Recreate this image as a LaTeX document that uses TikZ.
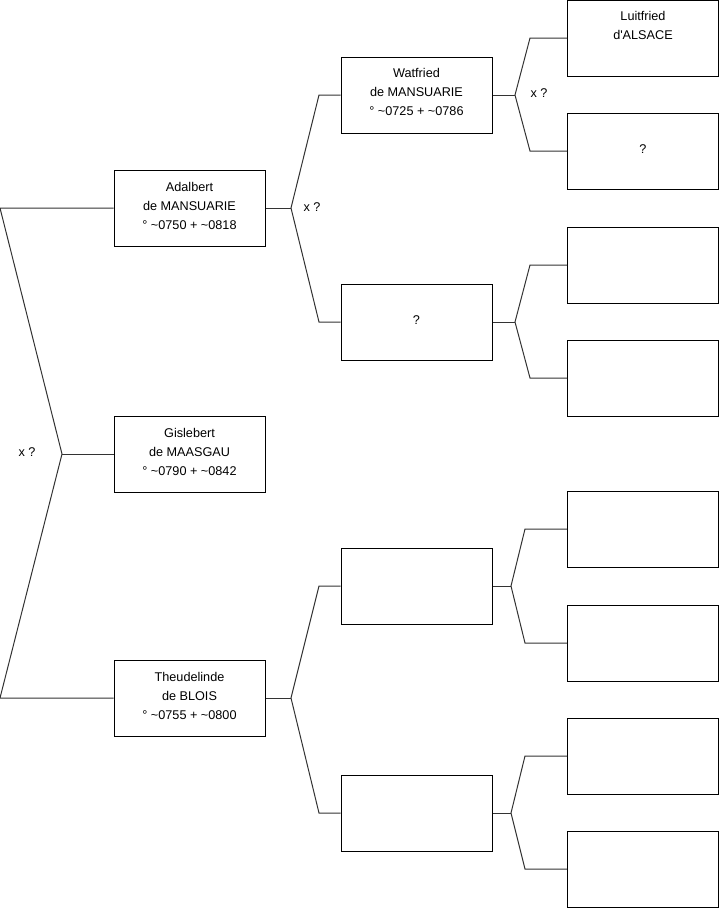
\documentclass[tikz,border=0pt]{standalone}
\usepackage{fontspec}
\setmainfont{Liberation Sans}
\begin{document}
\begin{tikzpicture}[x=0.75pt,y=-0.75pt,
  person/.style={draw=black,line width=0.75pt,minimum width=113.25pt,minimum height=57pt,inner sep=0pt},
  ptext/.style={align=center,font=\fontsize{9.5}{14.25}\selectfont,inner sep=0pt},
  conn/.style={draw=black!80,line width=0.75pt},
  lbl/.style={font=\fontsize{9.5}{11}\selectfont,inner sep=0pt}]
\useasboundingbox (0,0) rectangle (719,908);
% generation 1
\node[person] (adal) at (189.5,208) {};
\node[ptext] (adalt) at (189.5,206) {Adalbert\\de MANSUARIE\\° \textasciitilde0750 + \textasciitilde0818};
\node[person] (gisl) at (189.5,454) {};
\node[ptext] (gislt) at (189.5,452) {Gislebert\\de MAASGAU\\° \textasciitilde0790 + \textasciitilde0842};
\node[person] (theu) at (189.5,698) {};
\node[ptext] (theut) at (189.5,696) {Theudelinde\\de BLOIS\\° \textasciitilde0755 + \textasciitilde0800};
% generation 2
\node[person] (watf) at (416.5,95) {};
\node[ptext] (watft) at (416.5,92) {Watfried\\de MANSUARIE\\° \textasciitilde0725 + \textasciitilde0786};
\node[person] (amot) at (416.5,322) {};
\node[ptext] (amott) at (416.5,320) {?};
\node[person] (tfat) at (416.5,586) {};
\node[person] (tmot) at (416.5,813) {};
% generation 3
\node[person] (luit) at (643,38) {};
\node[ptext] (luitt) at (643,25.5) {Luitfried\\d\textquotesingle ALSACE};
\node[person] (wmot) at (643,151) {};
\node[ptext] (wmott) at (643,149) {?};
\node[person] (q3) at (643,265) {};
\node[person] (q4) at (643,378) {};
\node[person] (q5) at (643,529) {};
\node[person] (q6) at (643,643) {};
\node[person] (q7) at (643,756) {};
\node[person] (q8) at (643,869) {};
% left fork
\coordinate (l0) at (0,208);
\coordinate (l1) at (62,454);
\coordinate (l2) at (0,698);
\draw[conn] (adal.west) -- (l0) -- (l1) -- (l2) -- (theu.west);
\draw[conn] (l1) -- (gisl.west);
\node[lbl] (x1) at (27,452) {x ?};
% forks gen1 -> gen2
\coordinate (a1) at (291,208);
\coordinate (a2) at (319,95);
\coordinate (a3) at (319,322);
\draw[conn] (adal.east) -- (a1);
\draw[conn] (watf.west) -- (a2) -- (a1) -- (a3) -- (amot.west);
\node[lbl] (x2) at (312,207) {x ?};
\coordinate (t1) at (291,698);
\coordinate (t2) at (319,586);
\coordinate (t3) at (319,813);
\draw[conn] (theu.east) -- (t1);
\draw[conn] (tfat.west) -- (t2) -- (t1) -- (t3) -- (tmot.west);
% forks gen2 -> gen3
\coordinate (w1) at (515,95);
\coordinate (w2) at (530,38);
\coordinate (w3) at (530,151);
\draw[conn] (watf.east) -- (w1);
\draw[conn] (luit.west) -- (w2) -- (w1) -- (w3) -- (wmot.west);
\node[lbl] (x3) at (539,93) {x ?};
\coordinate (m1) at (515,322);
\coordinate (m2) at (530,265);
\coordinate (m3) at (530,378);
\draw[conn] (amot.east) -- (m1);
\draw[conn] (q3.west) -- (m2) -- (m1) -- (m3) -- (q4.west);
\coordinate (f1) at (511,586);
\coordinate (f2) at (525,529);
\coordinate (f3) at (525,643);
\draw[conn] (tfat.east) -- (f1);
\draw[conn] (q5.west) -- (f2) -- (f1) -- (f3) -- (q6.west);
\coordinate (g1) at (511,813);
\coordinate (g2) at (525,756);
\coordinate (g3) at (525,869);
\draw[conn] (tmot.east) -- (g1);
\draw[conn] (q7.west) -- (g2) -- (g1) -- (g3) -- (q8.west);
\end{tikzpicture}
\end{document}
